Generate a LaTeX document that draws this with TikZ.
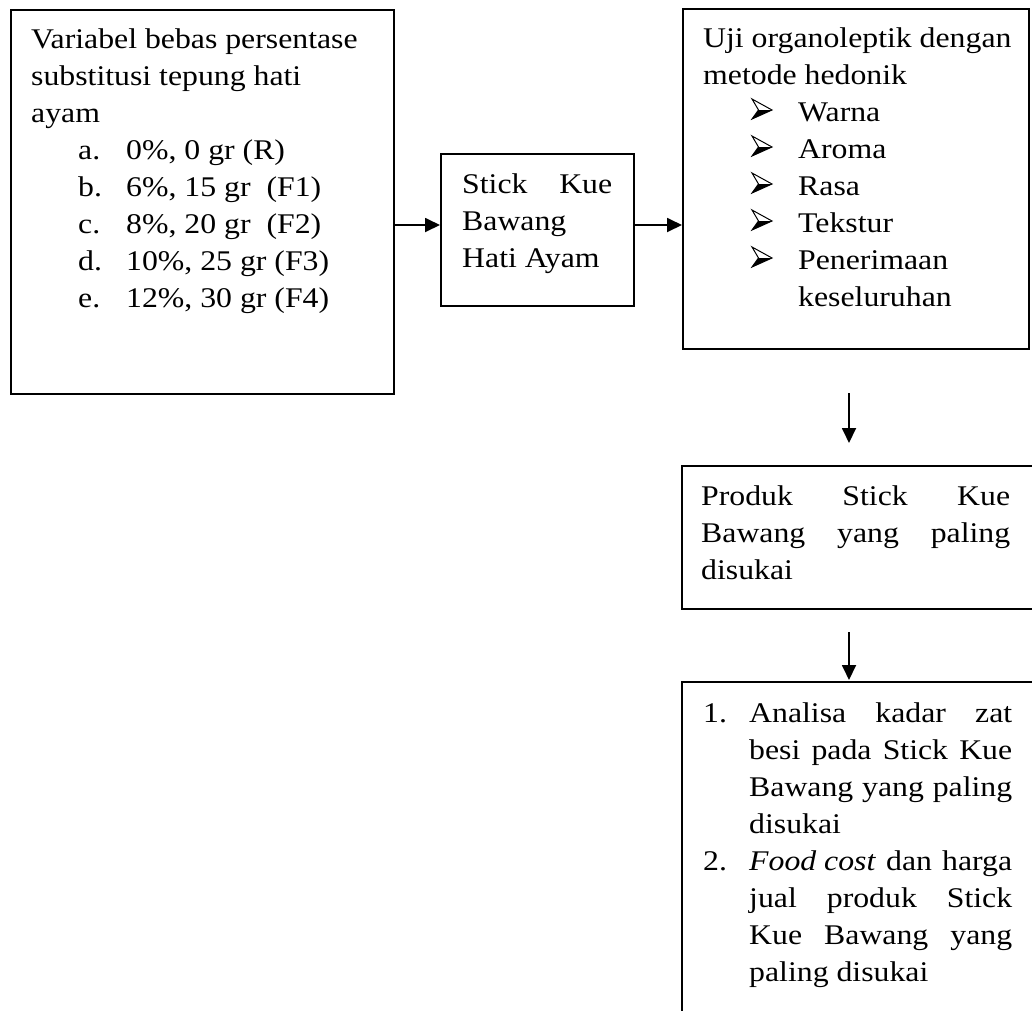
\documentclass[tikz,border=0pt]{standalone}
\usepackage{fontspec}
\setmainfont{Liberation Serif}[FakeStretch=1.115]
\usetikzlibrary{arrows.meta}
\newcommand{\lline}[1]{\hbox to \hsize{#1\hfil}}
\newcommand{\jline}[1]{\hbox to \hsize{#1}}
\newcommand{\blk}[2]{\vtop{\hsize=#1\fontsize{28.5}{37}\selectfont #2}}
\tikzset{
  box/.style={draw, line width=1.8pt, minimum width=#1, anchor=north west, inner sep=0pt},
  txt/.style={anchor=base west, inner sep=0pt},
  arr/.style={line width=1.8pt, -{Triangle[length=15pt,width=14pt]}},
  pics/arrbul/.style={code={
    \fill (0,-2) -- (20,-11) -- (6.5,-11) -- cycle;
    \draw[line width=1pt, line join=miter] (0,-22) -- (20,-11) -- (0,-2) -- (6.5,-11) -- cycle;
  }}
}
\begin{document}
\begin{tikzpicture}[x=1pt,y=-1pt]
\useasboundingbox (0,0) rectangle (1032,1010);
\clip (0,0) rectangle (1032,1010);
% boxes
\node[box=383pt, minimum height=384pt] (b1) at (10,9) {};
\node[box=193pt, minimum height=152pt] (b2) at (440,153) {};
\node[box=346pt, minimum height=340pt] (b3) at (682,8) {};
\node[box=380pt, minimum height=143pt] (b4) at (681,465) {};
\node[box=380pt, minimum height=360pt] (b5) at (681,681) {};
% helper coordinates
\coordinate (m1) at (0,225);
\coordinate (a3s) at (849,393);
\coordinate (a3e) at (849,443);
\coordinate (a4s) at (849,632);
\coordinate (a4e) at (849,680);
% arrows
\draw[arr] (b1.east |- m1) -- (b2.west |- m1);
\draw[arr] (b2.east |- m1) -- (b3.west |- m1);
\draw[arr] (a3s) -- (a3e);
\draw[arr] (a4s) -- (a4e);
% bullets
\foreach \yy in {120,157,194,231,268} \pic at (752,\yy+1) {arrbul};
% texts
\node[txt] (t1) at (31,48) {\blk{345pt}{%
\lline{Variabel bebas persentase}
\lline{substitusi tepung hati}
\lline{ayam}
\lline{\hskip47pt\makebox[48pt][l]{a.}0\%, 0 gr (R)}
\lline{\hskip47pt\makebox[48pt][l]{b.}6\%, 15 gr\ \ (F1)}
\lline{\hskip47pt\makebox[48pt][l]{c.}8\%, 20 gr\ \ (F2)}
\lline{\hskip47pt\makebox[48pt][l]{d.}10\%, 25 gr (F3)}
\lline{\hskip47pt\makebox[48pt][l]{e.}12\%, 30 gr (F4)}}};
\node[txt] (t2) at (462,193) {\blk{150pt}{%
\jline{Stick\hfill Kue}
\lline{Bawang}
\lline{Hati Ayam}}};
\node[txt] (t3) at (703,47) {\blk{320pt}{%
\lline{Uji organoleptik dengan}
\lline{metode hedonik}
\lline{\hskip95pt Warna}
\lline{\hskip95pt Aroma}
\lline{\hskip95pt Rasa}
\lline{\hskip95pt Tekstur}
\lline{\hskip95pt Penerimaan}
\lline{\hskip95pt keseluruhan}}};
\node[txt] (t4) at (701,505) {\blk{309pt}{%
\jline{Produk\hfill Stick\hfill Kue}
\jline{Bawang\hfill yang\hfill paling}
\lline{disukai}}};
\node[txt] (t5) at (703,722) {\blk{309pt}{%
\jline{\makebox[46pt][l]{1.}Analisa\hfill kadar\hfill zat}
\jline{\hskip46pt besi\hfill pada\hfill Stick\hfill Kue}
\jline{\hskip46pt Bawang\hfill yang\hfill paling}
\lline{\hskip46pt disukai}
\jline{\makebox[46pt][l]{2.}\textit{Food cost}\hfill dan\hfill harga}
\jline{\hskip46pt jual\hfill produk\hfill Stick}
\jline{\hskip46pt Kue\hfill Bawang\hfill yang}
\lline{\hskip46pt paling disukai}}};
\end{tikzpicture}
\end{document}
